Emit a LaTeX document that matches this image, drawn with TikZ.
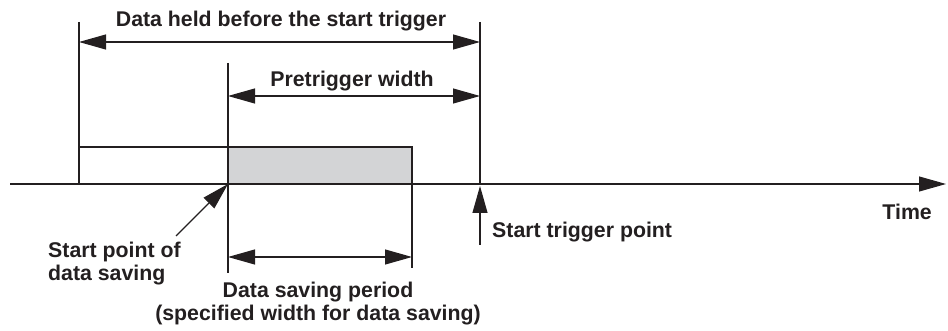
\documentclass[tikz,border=0pt]{standalone}
\usepackage{fontspec}
\setmainfont{Liberation Sans}
\usetikzlibrary{arrows.meta, positioning}
\definecolor{ink}{RGB}{35,31,32}
\definecolor{savegray}{RGB}{211,212,214}
\tikzset{
	txt/.style={font=\fontsize{21.3}{23}\selectfont\bfseries, text=ink, inner sep=0pt},
	guide/.style={draw=ink, line width=1.1pt},
	span/.style={guide, {Triangle[length=27pt,width=15pt]}-{Triangle[length=27pt,width=15pt]}},
	pointer/.style={guide, -{Triangle[length=27pt,width=15pt]}},
}

\begin{document}
\begin{tikzpicture}[x=1pt, y=-1pt]
\useasboundingbox (0,0) rectangle (948,331);

% time axis
\coordinate (axis start) at (10,184);
\coordinate (axis end) at (946,184);

% key instants on the axis
\coordinate (held) at (79,184);
\coordinate (save) at (228,184);
\coordinate (save end) at (412,184);
\coordinate (trig) at (480,184);

% buffered data
\draw[guide, fill=white] (79,147) rectangle (save);
\draw[guide, fill=savegray] (228,147) rectangle (save end);

\draw[pointer] (axis start) -- (axis end);

% extension lines
\coordinate (held top) at (79,22);
\coordinate (trig top) at (480,22);
\coordinate (save top) at (228,63);
\coordinate (save foot) at (228,273);
\coordinate (save end foot) at (412,268);
\foreach \a/\b in {held top/held, trig top/trig, save top/save foot, save end/save end foot}
	\draw[guide] (\a) -- (\b);

% widths
\coordinate (held l) at (79,42);
\coordinate (held r) at (480,42);
\coordinate (pre l) at (228,96);
\coordinate (pre r) at (480,96);
\coordinate (period l) at (228,257);
\coordinate (period r) at (412,257);
\draw[span] (held l) -- (held r);
\draw[span] (pre l) -- (pre r);
\draw[span] (period l) -- (period r);

\node[txt, anchor=base] (held lbl) at (281,27) {Data held before the start trigger};
\node[txt, anchor=base] (pre lbl) at (352,87) {Pretrigger width};
\node[txt, anchor=base, align=center] (period lbl) at (318,320)
	{Data saving period\\(specified width for data saving)};

% pointers to the instants
\coordinate (trig tail) at (480,245);
\coordinate (trig tip) at (480,186);
\draw[pointer] (trig tail) -- (trig tip);
\node[txt, anchor=base west] (trig lbl) at (492,238) {Start trigger point};

\coordinate (save tail) at (176,236);
\draw[pointer] (save tail) -- (save);
\node[txt, anchor=base west, align=left] (save lbl) at (48,280)
	{Start point of\\data saving};

\node[txt, anchor=base east] (time lbl) at (932,220) {Time};

\end{tikzpicture}
\end{document}
